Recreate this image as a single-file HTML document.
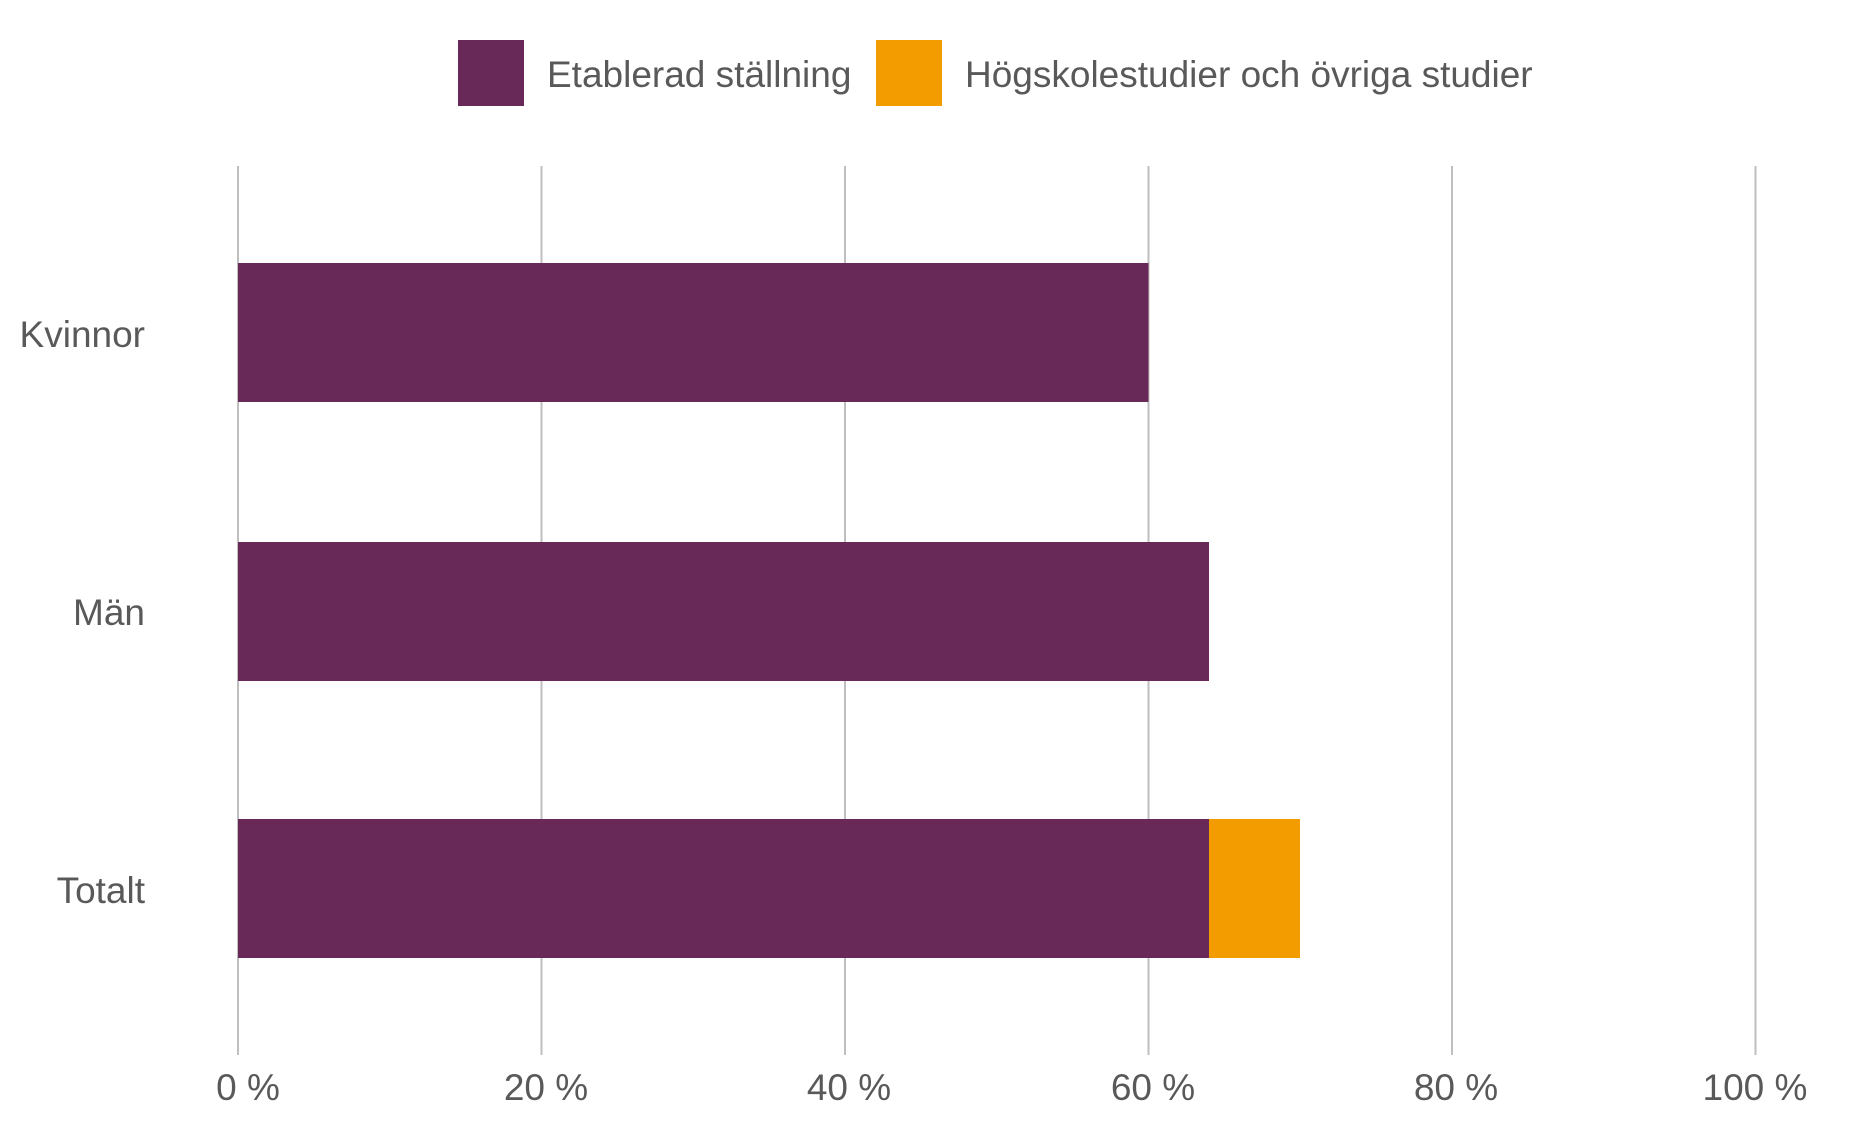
<!DOCTYPE html>
<html><head><meta charset="utf-8"><style>
body{margin:0;background:#fff;}
svg text{font-family:"Liberation Sans",Arial,sans-serif;fill:#595959;font-size:37px;}
</style></head><body>
<svg width="1850" height="1125" xmlns="http://www.w3.org/2000/svg">
<rect width="1850" height="1125" fill="#fff"/>
<g stroke="#bfbfbf" stroke-width="2">
<line x1="238" y1="166" x2="238" y2="1055"/>
<line x1="541.5" y1="166" x2="541.5" y2="1055"/>
<line x1="845" y1="166" x2="845" y2="1055"/>
<line x1="1148.5" y1="166" x2="1148.5" y2="1055"/>
<line x1="1452" y1="166" x2="1452" y2="1055"/>
<line x1="1755.5" y1="166" x2="1755.5" y2="1055"/>
</g>
<rect x="238" y="263" width="910.5" height="139" fill="#682858"/>
<rect x="238" y="542" width="971" height="139" fill="#682858"/>
<rect x="238" y="819" width="971" height="139" fill="#682858"/>
<rect x="1209" y="819" width="91" height="139" fill="#f39c00"/>
<g text-anchor="end">
<text x="145" y="347">Kvinnor</text>
<text x="145" y="625">Män</text>
<text x="145" y="903">Totalt</text>
</g>
<g text-anchor="middle">
<text x="248" y="1100">0 %</text>
<text x="546" y="1100">20 %</text>
<text x="849" y="1100">40 %</text>
<text x="1153" y="1100">60 %</text>
<text x="1456" y="1100">80 %</text>
<text x="1755" y="1100">100 %</text>
</g>
<rect x="458" y="40" width="66" height="66" fill="#682858"/>
<text x="547" y="87">Etablerad ställning</text>
<rect x="876" y="40" width="66" height="66" fill="#f39c00"/>
<text x="965" y="87">Högskolestudier och övriga studier</text>
</svg>
</body></html>
